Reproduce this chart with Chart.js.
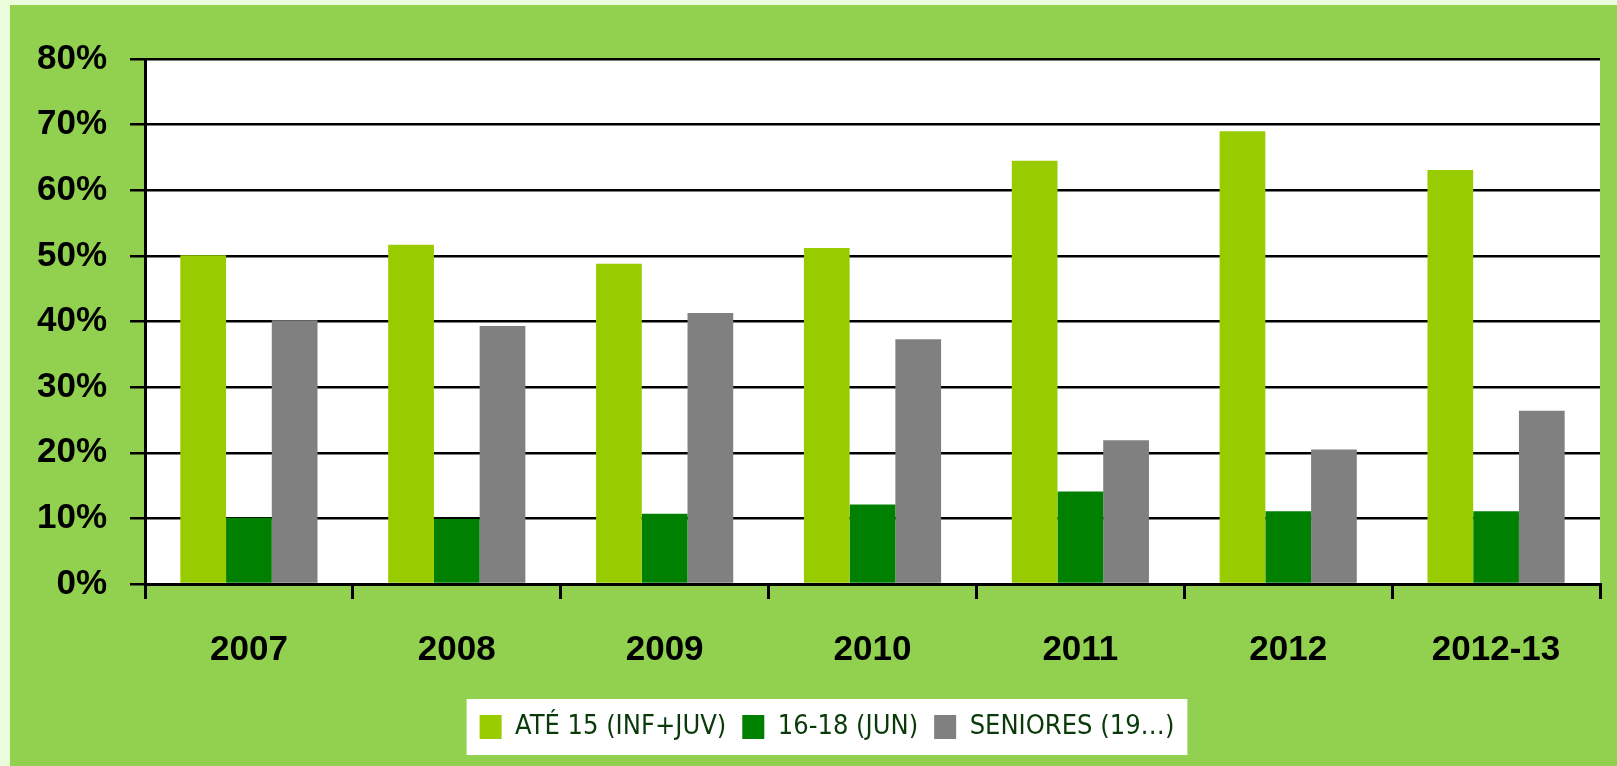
<!DOCTYPE html>
<html>
<head>
<meta charset="utf-8">
<script src="https://cdn.jsdelivr.net/npm/chart.js@4.4.1/dist/chart.umd.min.js"></script>
<style>
  html, body { margin: 0; padding: 0; background: #ebfcdc; }
  #panel {
    position: absolute; left: 10px; top: 5px; width: 1607px; height: 761px;
    background: #92d050;
  }
  canvas { display: block; }
</style>
</head>
<body>
<div id="panel"><canvas id="chart" width="1607" height="761"></canvas></div>
<script>
// Data
const categories = ['2007', '2008', '2009', '2010', '2011', '2012', '2012-13'];
const ate15 = [50.1, 51.7, 48.8, 51.2, 64.5, 69.0, 63.1];
const juniores = [10.1, 9.9, 10.7, 12.1, 14.1, 11.1, 11.1];
const seniores = [40.2, 39.3, 41.3, 37.3, 21.9, 20.5, 26.4];
const seriesNames = ['ATÉ 15 (INF+JUV)', '16-18 (JUN)', 'SENIORES (19…)'];

const AXIS_FONT = { family: "'Liberation Sans', Arial, sans-serif", size: 35, weight: 'bold' };

// White plot background + white legend box, and legend placement
const panelPlugin = {
  id: 'panelPlugin',
  afterLayout(chart) {
    const lg = chart.legend;
    if (!lg) return;
    const dx = 817 - (lg.left + lg.right) / 2;
    const dy = 719 - (lg.top + lg.bottom) / 2;
    lg.left += dx; lg.right += dx;
    lg.top += dy; lg.bottom += dy;
  },
  beforeDraw(chart) {
    const { ctx, chartArea: a } = chart;
    ctx.save();
    ctx.fillStyle = '#ffffff';
    ctx.fillRect(a.left, a.top, a.right - a.left, a.bottom - a.top);
    const hb = chart.legend && chart.legend.legendHitBoxes;
    if (hb && hb.length) {
      const l = Math.min(...hb.map(h => h.left)) - 13;
      const r = Math.max(...hb.map(h => h.left + h.width)) + 13;
      const cy = hb[0].top + hb[0].height / 2;
      ctx.fillRect(l, cy - 28, r - l, 56);
    }
    ctx.restore();
  }
};

const makeSet = (label, data, color) => ({
  label: label,
  data: data,
  backgroundColor: color,
  borderWidth: 0,
  categoryPercentage: 0.66,
  barPercentage: 1.0
});

new Chart(document.getElementById('chart').getContext('2d'), {
  type: 'bar',
  data: {
    labels: categories,
    datasets: [
      makeSet(seriesNames[0], ate15, '#99cc00'),
      makeSet(seriesNames[1], juniores, '#008000'),
      makeSet(seriesNames[2], seniores, '#808080')
    ]
  },
  options: {
    responsive: false,
    animation: false,
    layout: { padding: { top: 54, right: 17, left: 0, bottom: 0 } },
    plugins: {
      tooltip: { enabled: false },
      legend: {
        position: 'bottom',
        labels: {
          boxWidth: 22,
          boxHeight: 24,
          padding: 16,
          color: '#0a3a0a',
          font: { family: "'Liberation Sans Narrow', 'DejaVu Sans Condensed', sans-serif", size: 27 }
        }
      }
    },
    scales: {
      x: {
        grid: { drawOnChartArea: false, drawTicks: true, tickLength: 15, color: '#000', lineWidth: 3 },
        border: { color: '#000', width: 3 },
        ticks: { color: '#000', font: AXIS_FONT, padding: 30, maxRotation: 0 },
        afterFit(scale) {
          scale.height = scale.chart.height - 579 - scale.chart.legend.height;
        }
      },
      y: {
        min: 0,
        max: 80,
        grid: { color: '#000', lineWidth: 2.5, tickLength: 15 },
        border: { color: '#000', width: 3 },
        ticks: {
          stepSize: 10,
          color: '#000',
          font: AXIS_FONT,
          padding: 23,
          callback: v => v + '%'
        },
        afterFit(scale) { scale.width = 135; }
      }
    }
  },
  plugins: [panelPlugin]
});
</script>
</body>
</html>
